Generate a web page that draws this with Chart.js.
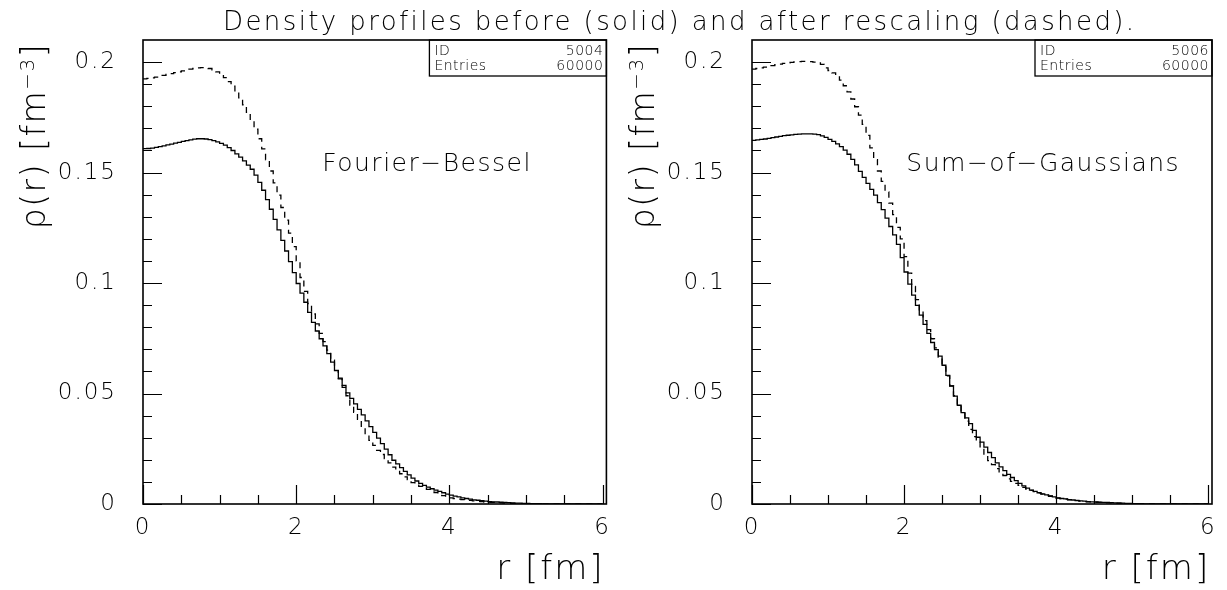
<!DOCTYPE html>
<html>
<head>
<meta charset="utf-8">
<script src="https://cdn.jsdelivr.net/npm/chart.js@4.4.1/dist/chart.umd.min.js"></script>
<style>
  html, body { margin: 0; padding: 0; background: #fff; }
  body { width: 1227px; height: 590px; position: relative; overflow: hidden; }
  #titulo {
    position: absolute; left: 223px; top: 9px; white-space: nowrap;
    font: 200 26px/25px "DejaVu Sans", sans-serif; letter-spacing: 2.4px; color: #000;
    filter: grayscale(100%);
  }
  canvas { position: absolute; top: 0; }
</style>
</head>
<body>
<div id="titulo">Density profiles before (solid) and after rescaling (dashed).</div>
<canvas id="panelFB" width="620" height="590" style="left:0"></canvas>
<canvas id="panelSOG" width="618" height="590" style="left:609px"></canvas>
<script>
// histogramas de 120 bins de 0.05 fm, de r = 0 a 6 fm
const ANCHO_BIN = 0.05;

// Fourier-Bessel: antes (solido) y despues del reescalado (guiones)
const FB_ANTES = [
  0.1608, 0.1609, 0.1611, 0.1614, 0.1617, 0.1621, 0.1625, 0.1629, 0.1633, 0.1637,
  0.1641, 0.1645, 0.1648, 0.1651, 0.1653, 0.1653, 0.1652, 0.1649, 0.1645, 0.1639,
  0.1632, 0.1624, 0.1613, 0.1600, 0.1585, 0.1570, 0.1553, 0.1534, 0.1515, 0.1488,
  0.1456, 0.1420, 0.1378, 0.1334, 0.1288, 0.1241, 0.1193, 0.1145, 0.1097, 0.1047,
  0.0998, 0.0954, 0.0913, 0.0867, 0.0822, 0.0783, 0.0748, 0.0716, 0.0681, 0.0642,
  0.0604, 0.0570, 0.0537, 0.0503, 0.0478, 0.0453, 0.0428, 0.0403, 0.0376, 0.0350,
  0.0324, 0.0298, 0.0273, 0.0248, 0.0223, 0.0198, 0.0182, 0.0165, 0.0148, 0.0132,
  0.0117, 0.0104, 0.0093, 0.0084, 0.0076, 0.0069, 0.0063, 0.0057, 0.0051, 0.0045,
  0.0040, 0.0036, 0.0032, 0.0028, 0.0025, 0.0022, 0.0019, 0.0017, 0.0015, 0.0013,
  0.0011, 0.0010, 0.0009, 0.0008, 0.0007, 0.0006, 0.0005, 0.0004, 0.0004, 0.0003,
  0.0003, 0.0002, 0.0002, 0.0002, 0.0001, 0.0001, 0.0001, 0.0001, 0.0001, 0.0001,
  0, 0, 0, 0, 0, 0, 0, 0, 0, 0
];
const FB_DESPUES = [
  0.1924, 0.1926, 0.1929, 0.1932, 0.1936, 0.1940, 0.1944, 0.1948, 0.1952, 0.1956,
  0.1960, 0.1964, 0.1968, 0.1971, 0.1974, 0.1975, 0.1975, 0.1971, 0.1965, 0.1956,
  0.1945, 0.1930, 0.1912, 0.1891, 0.1866, 0.1838, 0.1807, 0.1773, 0.1736, 0.1696,
  0.1653, 0.1607, 0.1558, 0.1507, 0.1453, 0.1398, 0.1342, 0.1285, 0.1226, 0.1165,
  0.1100, 0.1025, 0.0962, 0.0907, 0.0860, 0.0815, 0.0772, 0.0735, 0.0696, 0.0651,
  0.0605, 0.0566, 0.0528, 0.0490, 0.0448, 0.0415, 0.0383, 0.0348, 0.0315, 0.0288,
  0.0265, 0.0243, 0.0224, 0.0205, 0.0186, 0.0167, 0.0151, 0.0137, 0.0123, 0.0110,
  0.0097, 0.0088, 0.0080, 0.0072, 0.0066, 0.0060, 0.0052, 0.0045, 0.0038, 0.0032,
  0.0028, 0.0025, 0.0022, 0.0020, 0.0018, 0.0016, 0.0014, 0.0012, 0.0011, 0.0009,
  0.0008, 0.0007, 0.0006, 0.0005, 0.0004, 0.0004, 0.0003, 0.0003, 0.0002, 0.0002,
  0.0002, 0.0001, 0.0001, 0.0001, 0.0001, 0.0001, 0.0001, 0.0001, 0.0001, 0.0001,
  0, 0, 0, 0, 0, 0, 0, 0, 0, 0
];

// Sum-of-Gaussians
const SOG_ANTES = [
  0.1646, 0.1648, 0.1650, 0.1652, 0.1655, 0.1658, 0.1661, 0.1664, 0.1667, 0.1669,
  0.1671, 0.1673, 0.1674, 0.1675, 0.1675, 0.1675, 0.1674, 0.1672, 0.1666, 0.1659,
  0.1650, 0.1641, 0.1630, 0.1617, 0.1602, 0.1583, 0.1560, 0.1535, 0.1505, 0.1478,
  0.1451, 0.1424, 0.1398, 0.1364, 0.1332, 0.1294, 0.1256, 0.1218, 0.1175, 0.1115,
  0.1050, 0.0995, 0.0945, 0.0899, 0.0855, 0.0813, 0.0772, 0.0731, 0.0699, 0.0669,
  0.0628, 0.0582, 0.0534, 0.0488, 0.0447, 0.0414, 0.0390, 0.0364, 0.0333, 0.0302,
  0.0280, 0.0257, 0.0233, 0.0210, 0.0186, 0.0168, 0.0151, 0.0134, 0.0120, 0.0106,
  0.0093, 0.0082, 0.0072, 0.0063, 0.0057, 0.0051, 0.0046, 0.0041, 0.0037, 0.0032,
  0.0028, 0.0025, 0.0023, 0.0020, 0.0018, 0.0016, 0.0014, 0.0013, 0.0011, 0.0010,
  0.0009, 0.0008, 0.0007, 0.0007, 0.0006, 0.0005, 0.0005, 0.0004, 0.0003, 0.0003,
  0.0002, 0.0002, 0.0002, 0.0001, 0.0001, 0.0001, 0.0001, 0.0001, 0.0001, 0.0001,
  0, 0, 0, 0, 0, 0, 0, 0, 0, 0
];
const SOG_DESPUES = [
  0.1968, 0.1971, 0.1974, 0.1977, 0.1980, 0.1984, 0.1988, 0.1991, 0.1994, 0.1997,
  0.1999, 0.2001, 0.2002, 0.2003, 0.2003, 0.2002, 0.2000, 0.1996, 0.1990, 0.1974,
  0.1962, 0.1951, 0.1938, 0.1918, 0.1893, 0.1865, 0.1833, 0.1798, 0.1760, 0.1718,
  0.1668, 0.1612, 0.1558, 0.1507, 0.1460, 0.1412, 0.1362, 0.1310, 0.1252, 0.1200,
  0.1120, 0.1045, 0.0985, 0.0925, 0.0875, 0.0830, 0.0789, 0.0748, 0.0707, 0.0664,
  0.0621, 0.0580, 0.0535, 0.0490, 0.0452, 0.0413, 0.0375, 0.0338, 0.0305, 0.0280,
  0.0250, 0.0222, 0.0196, 0.0178, 0.0160, 0.0145, 0.0129, 0.0114, 0.0102, 0.0093,
  0.0084, 0.0075, 0.0068, 0.0062, 0.0056, 0.0050, 0.0045, 0.0040, 0.0035, 0.0030,
  0.0027, 0.0025, 0.0022, 0.0019, 0.0017, 0.0015, 0.0013, 0.0011, 0.0010, 0.0009,
  0.0008, 0.0007, 0.0006, 0.0005, 0.0005, 0.0004, 0.0003, 0.0003, 0.0002, 0.0002,
  0.0001, 0.0001, 0.0001, 0.0001, 0.0001, 0.0001, 0.0001, 0.0001, 0.0001, 0.0001,
  0, 0, 0, 0, 0, 0, 0, 0, 0, 0
];

const X_TICKS = [0, 2, 4, 6];
const Y_TICKS = [0, 0.05, 0.1, 0.15, 0.2];
const X_MENOR = 0.5;   // marcas menores
const Y_MENOR = 0.01;

const STATS_FB = [["ID", "5004"], ["Entries", "60000"]];
const STATS_SOG = [["ID", "5006"], ["Entries", "60000"]];

const FAMILIA = '"DejaVu Sans", sans-serif';

// marco, marcas hacia dentro, titulos de ejes, caja de estadisticas y etiqueta
const marcoPAW = {
  id: "marcoPAW",
  beforeDraw(chart) {
    chart.ctx.letterSpacing = "2px";   // para las etiquetas de los ejes
  },
  afterDraw(chart, args, opts) {
    const { ctx, chartArea: a } = chart;
    const sx = chart.scales.x, sy = chart.scales.y;
    ctx.save();
    ctx.strokeStyle = "#000";
    ctx.fillStyle = "#000";

    ctx.lineWidth = 1.2;
    ctx.beginPath();
    const nY = Math.round(Y_TICKS[Y_TICKS.length - 1] / Y_MENOR);
    for (let k = 0; k <= nY; k++) {
      const py = Math.round(sy.getPixelForValue(k * Y_MENOR)) + 0.5;
      const largo = k % 5 === 0 ? 19 : 9;
      ctx.moveTo(a.left, py);
      ctx.lineTo(a.left + largo, py);
    }
    const nX = Math.round(X_TICKS[X_TICKS.length - 1] / X_MENOR);
    for (let k = 0; k <= nX; k++) {
      const px = Math.round(sx.getPixelForValue(k * X_MENOR)) + 0.5;
      const largo = k % 4 === 0 ? 19 : 9;
      ctx.moveTo(px, a.bottom);
      ctx.lineTo(px, a.bottom - largo);
    }
    ctx.stroke();

    ctx.lineWidth = 1.6;
    ctx.strokeRect(a.left, a.top, a.right - a.left, a.bottom - a.top);

    // titulo eje x
    ctx.letterSpacing = "2px";
    ctx.font = "200 34px " + FAMILIA;
    ctx.textAlign = "right";
    ctx.textBaseline = "alphabetic";
    ctx.fillText("r [fm]", sx.getPixelForValue(6) + 2, chart.height - 11);

    // titulo eje y, girado, con el exponente elevado
    ctx.save();
    ctx.translate(45, a.top + 3);
    ctx.rotate(-Math.PI / 2);
    ctx.letterSpacing = "1.5px";
    ctx.textAlign = "left";
    const fBase = "200 33px " + FAMILIA, fSup = "200 20px " + FAMILIA;
    const partes = [
      { t: "ρ(r) [fm", f: fBase, dy: 0 },
      { t: "−3", f: fSup, dy: -11 },
      { t: "]", f: fBase, dy: 0 }
    ];
    let total = 0;
    partes.forEach(p => { ctx.font = p.f; p.w = ctx.measureText(p.t).width; total += p.w; });
    let u = -total;
    partes.forEach(p => { ctx.font = p.f; ctx.fillText(p.t, u, p.dy); u += p.w; });
    ctx.restore();

    // caja ID / Entries
    ctx.letterSpacing = "0.5px";
    const bw = 177, bh = 36;
    ctx.lineWidth = 1.3;
    ctx.strokeRect(a.right - bw, a.top, bw, bh);
    ctx.font = "200 14px " + FAMILIA;
    opts.stats.forEach((fila, i) => {
      const by = a.top + 15 + i * 15;
      ctx.textAlign = "left";
      ctx.fillText(fila[0], a.right - bw + 5, by);
      ctx.textAlign = "right";
      ctx.fillText(fila[1], a.right - 3, by);
    });

    ctx.letterSpacing = "1.5px";
    ctx.font = "200 25px " + FAMILIA;
    ctx.textAlign = "left";
    ctx.textBaseline = "middle";
    ctx.fillText(opts.etiqueta, sx.getPixelForValue(opts.pos[0]), sy.getPixelForValue(opts.pos[1]));
    ctx.restore();
  }
};

function puntos(valores) {
  const p = valores.map((v, i) => ({ x: i * ANCHO_BIN, y: v }));
  p.push({ x: valores.length * ANCHO_BIN, y: valores[valores.length - 1] });
  return p;
}

function crearPanel(idCanvas, antes, despues, stats, etiqueta, pos, padDer) {
  return new Chart(document.getElementById(idCanvas), {
    type: "line",
    data: {
      datasets: [
        { label: "antes", data: puntos(antes), borderColor: "#000", borderWidth: 1.3,
          stepped: "before", pointRadius: 0, fill: false },
        { label: "despues", data: puntos(despues), borderColor: "#000", borderWidth: 1.3,
          borderDash: [6, 5], stepped: "before", pointRadius: 0, fill: false }
      ]
    },
    options: {
      responsive: false,
      animation: false,
      events: [],
      layout: { padding: { top: 40, right: padDer, left: 0, bottom: 0 } },
      plugins: {
        legend: { display: false },
        tooltip: { enabled: false },
        marcoPAW: { stats, etiqueta, pos }
      },
      scales: {
        x: {
          type: "linear", min: 0, max: 6.05,
          afterFit: s => { s.height = 86; },
          afterBuildTicks: s => { s.ticks = X_TICKS.map(v => ({ value: v })); },
          grid: { display: false, drawTicks: false },
          border: { display: false },
          ticks: { padding: 10, color: "#000", maxRotation: 0, autoSkip: false,
                   font: { family: FAMILIA, size: 23, weight: "200" },
                   callback: v => String(v) },
          title: { display: false }
        },
        y: {
          type: "linear", min: 0, max: 0.21,
          afterFit: s => { s.width = 143; },
          afterBuildTicks: s => { s.ticks = Y_TICKS.map(v => ({ value: v })); },
          grid: { display: false, drawTicks: false },
          border: { display: false },
          ticks: { padding: 26, color: "#000",
                   font: { family: FAMILIA, size: 23, weight: "200" },
                   callback: v => String(v) },
          title: { display: false }
        }
      }
    },
    plugins: [marcoPAW]
  });
}

crearPanel("panelFB", FB_ANTES, FB_DESPUES, STATS_FB, "Fourier−Bessel", [2.34, 0.1535], 13);
crearPanel("panelSOG", SOG_ANTES, SOG_DESPUES, STATS_SOG, "Sum−of−Gaussians", [2.03, 0.1535], 15);
</script>
</body>
</html>
